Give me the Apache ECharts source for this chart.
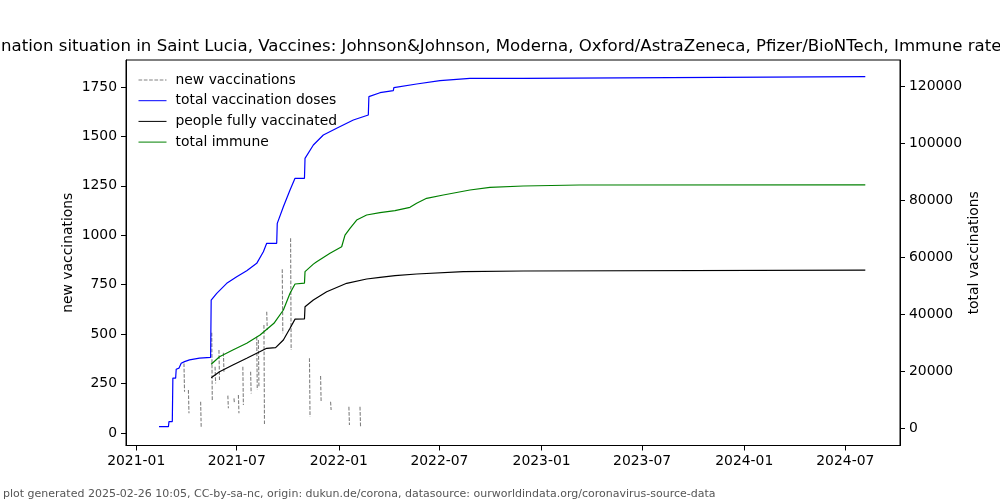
<!DOCTYPE html>
<html>
<head>
<meta charset="utf-8">
<script src="https://cdn.jsdelivr.net/npm/echarts@6/dist/echarts.min.js"></script>
<style>html,body{margin:0;padding:0;background:#fff}#c{width:1000px;height:500px}</style>
</head>
<body>
<div id="c"></div>
<script>
// ---- data ----
const titleText = 'nation situation in Saint Lucia, Vaccines: Johnson&Johnson, Moderna, Oxford/AstraZeneca, Pfizer/BioNTech, Immune rate';
const footerText = 'plot generated 2025-02-26 10:05, CC-by-sa-nc, origin: dukun.de/corona, datasource: ourworldindata.org/coronavirus-source-data';
const seriesNames = ['new vaccinations', 'total vaccination doses', 'people fully vaccinated', 'total immune'];
const xTickLabels = ['2021-01', '2021-07', '2022-01', '2022-07', '2023-01', '2023-07', '2024-01', '2024-07'];
const leftTicks = [0, 250, 500, 750, 1000, 1250, 1500, 1750];
const rightTicks = [0, 20000, 40000, 60000, 80000, 100000, 120000];

// new vaccinations: short runs of consecutive days (each run separated by a gap in the data)
const newVacRuns = [
  [['2021-03-28', 352], ['2021-03-29', 209]],
  [['2021-04-05', 217], ['2021-04-06', 100]],
  [['2021-04-27', 158], ['2021-04-28', 32]],
  [['2021-05-17', 507], ['2021-05-18', 158]],
  [['2021-05-23', 335], ['2021-05-24', 251]],
  [['2021-05-30', 420], ['2021-05-31', 268]],
  [['2021-06-07', 406], ['2021-06-08', 310]],
  [['2021-06-15', 189], ['2021-06-16', 125]],
  [['2021-06-26', 175], ['2021-06-27', 150]],
  [['2021-07-04', 192], ['2021-07-05', 100]],
  [['2021-07-12', 335], ['2021-07-13', 142]],
  [['2021-07-26', 310], ['2021-07-27', 200]],
  [['2021-08-06', 487], ['2021-08-07', 217]],
  [['2021-08-09', 470], ['2021-08-10', 230]],
  [['2021-08-19', 546], ['2021-08-20', 40]],
  [['2021-08-24', 613], ['2021-08-25', 521]],
  [['2021-09-21', 828], ['2021-09-22', 504]],
  [['2021-10-06', 985], ['2021-10-07', 420]],
  [['2021-11-09', 378], ['2021-11-10', 82]],
  [['2021-11-29', 288], ['2021-11-30', 158]],
  [['2021-12-17', 158], ['2021-12-18', 116]],
  [['2022-01-19', 133], ['2022-01-20', 40]],
  [['2022-02-08', 133], ['2022-02-09', 32]]
];

const totalDoses = [
  ['2021-02-11', 450], ['2021-02-28', 450], ['2021-03-01', 2250], ['2021-03-07', 2250],
  ['2021-03-08', 17500], ['2021-03-13', 17500], ['2021-03-14', 20600], ['2021-03-19', 21000],
  ['2021-03-23', 22700], ['2021-03-29', 23300], ['2021-04-07', 23900], ['2021-04-25', 24500],
  ['2021-05-15', 24800], ['2021-05-16', 44900], ['2021-05-26', 47260], ['2021-06-13', 50770],
  ['2021-07-01', 53100], ['2021-07-19', 55200], ['2021-08-06', 57780], ['2021-08-18', 61860],
  ['2021-08-24', 64800], ['2021-09-11', 64800], ['2021-09-12', 71800], ['2021-09-23', 77650],
  ['2021-10-05', 83500], ['2021-10-14', 87600], ['2021-10-31', 87600], ['2021-11-01', 94600],
  ['2021-11-16', 99300], ['2021-12-04', 102800], ['2021-12-28', 105150], ['2022-01-27', 108070],
  ['2022-02-23', 109820], ['2022-02-24', 116250], ['2022-03-16', 117650], ['2022-04-09', 118350],
  ['2022-04-10', 119400], ['2022-05-21', 120700], ['2022-07-02', 121860], ['2022-08-25', 122700],
  ['2022-11-29', 122700], ['2022-11-30', 123270], ['2024-08-06', 123270]
];

const fullyVaccinated = [
  ['2021-05-16', 17650], ['2021-05-31', 19750], ['2021-06-24', 22100], ['2021-07-19', 24460],
  ['2021-08-06', 26200], ['2021-08-24', 27960], ['2021-09-09', 28180], ['2021-09-23', 30880],
  ['2021-10-05', 35000], ['2021-10-14', 38200], ['2021-10-31', 38250], ['2021-11-01', 42560],
  ['2021-11-16', 44900], ['2021-12-10', 47830], ['2022-01-15', 50770], ['2022-02-20', 52280],
  ['2022-03-16', 52880], ['2022-04-12', 53440], ['2022-05-21', 54040], ['2022-08-13', 54850],
  ['2022-11-29', 55090], ['2022-11-30', 55400], ['2024-08-06', 55400]
];

const totalImmune = [
  ['2021-05-16', 22350], ['2021-05-31', 25020], ['2021-06-24', 27370], ['2021-07-19', 29720],
  ['2021-08-12', 32630], ['2021-09-06', 36740], ['2021-09-23', 41400], ['2021-10-05', 47260],
  ['2021-10-14', 50530], ['2021-10-31', 50800], ['2021-11-01', 54850], ['2021-11-16', 57500],
  ['2021-11-22', 58350], ['2021-12-16', 61300], ['2022-01-06', 63600], ['2022-01-12', 67700],
  ['2022-01-21', 70070], ['2022-02-02', 72980], ['2022-02-20', 74740], ['2022-03-16', 75550],
  ['2022-04-12', 76250], ['2022-05-09', 77440], ['2022-05-21', 78840], ['2022-06-08', 80590],
  ['2022-07-08', 81750], ['2022-08-25', 83510], ['2022-09-30', 84460], ['2022-11-29', 84910],
  ['2023-03-10', 85260], ['2024-08-06', 85300]
];

// ---- helpers ----
function utc(s) {
  const p = s.split('-').map(Number);
  return Date.UTC(p[0], (p[1] || 1) - 1, p[2] || 1);
}
const DAY = 86400000;
function conv(arr) { return arr.map(d => [utc(d[0]), d[1]]); }
const newVacData = [];
newVacRuns.forEach(run => {
  run.forEach(d => newVacData.push([utc(d[0]), d[1]]));
  const last = utc(run[run.length - 1][0]);
  newVacData.push([last + DAY, '-']);
});

const FONT = 'DejaVu Sans';
const chart = echarts.init(document.getElementById('c'), null, { renderer: 'canvas' });
const lineBase = { type: 'line', symbol: 'none', showSymbol: false, connectNulls: false, animation: false, emphasis: { disabled: true } };
const plain = v => String(v);

chart.setOption({
  animation: false,
  backgroundColor: '#ffffff',
  textStyle: { fontFamily: FONT },
  title: [
    { text: titleText, left: 1, top: 37, padding: 0, textStyle: { fontFamily: FONT, fontSize: 16.6, fontWeight: 'normal', color: '#000', lineHeight: 20 } },
    { text: footerText, left: 3, top: 487, padding: 0, textStyle: { fontFamily: FONT, fontSize: 11, fontWeight: 'normal', color: '#555', lineHeight: 14 } }
  ],
  legend: {
    orient: 'vertical', left: 138, top: 73, padding: 0,
    itemWidth: 28, itemHeight: 14, itemGap: 6.7,
    itemStyle: { opacity: 0 },
    lineStyle: { width: 1 },
    data: seriesNames,
    textStyle: { fontFamily: FONT, fontSize: 13.9, color: '#000', padding: [0, 0, 0, 4] }
  },
  grid: { left: 126, right: 100, top: 60, bottom: 54.5, show: true, borderColor: '#000', borderWidth: 1, containLabel: false },
  xAxis: {
    type: 'value',
    min: utc('2021-01-01') - 18.4 * DAY,
    max: utc('2024-07-01') + 98.5 * DAY,
    splitLine: { show: false },
    axisLine: { show: true, onZero: false, lineStyle: { color: '#000', width: 1 } },
    axisTick: { show: true, length: 5, lineStyle: { color: '#000' }, customValues: xTickLabels.map(utc) },
    axisLabel: {
      customValues: xTickLabels.map(utc), margin: 9, color: '#000', fontFamily: FONT, fontSize: 13.9,
      formatter: function (v) { const d = new Date(v); return d.getUTCFullYear() + '-' + String(d.getUTCMonth() + 1).padStart(2, '0'); }
    }
  },
  yAxis: [
    {
      type: 'value', position: 'left', min: -63.2, max: 1886.1,
      name: 'new vaccinations', nameLocation: 'middle', nameRotate: 90, nameGap: 51, nameMoveOverlap: false,
      nameTextStyle: { fontFamily: FONT, fontSize: 13.9, color: '#000' },
      splitLine: { show: false },
      axisLine: { show: true, onZero: false, lineStyle: { color: '#000' } },
      axisTick: { show: true, length: 5, lineStyle: { color: '#000' }, customValues: leftTicks },
      axisLabel: { customValues: leftTicks, margin: 9, color: '#000', fontFamily: FONT, fontSize: 13.9, formatter: plain }
    },
    {
      type: 'value', position: 'right', min: -6140, max: 129123,
      name: 'total vaccinations', nameLocation: 'middle', nameRotate: 90, nameGap: 67, nameMoveOverlap: false,
      nameTextStyle: { fontFamily: FONT, fontSize: 13.9, color: '#000' },
      splitLine: { show: false },
      axisLine: { show: true, onZero: false, lineStyle: { color: '#000' } },
      axisTick: { show: true, length: 5, lineStyle: { color: '#000' }, customValues: rightTicks },
      axisLabel: { customValues: rightTicks, margin: 9, color: '#000', fontFamily: FONT, fontSize: 13.9, formatter: plain }
    }
  ],
  series: [
    Object.assign({}, lineBase, { name: seriesNames[0], yAxisIndex: 0, data: newVacData, itemStyle: { color: '#808080' }, lineStyle: { color: '#808080', width: 1.1, type: [3.7, 1.6] } }),
    Object.assign({}, lineBase, { name: seriesNames[1], yAxisIndex: 1, data: conv(totalDoses), itemStyle: { color: '#0000ff' }, lineStyle: { color: '#0000ff', width: 1.2 } }),
    Object.assign({}, lineBase, { name: seriesNames[2], yAxisIndex: 1, data: conv(fullyVaccinated), itemStyle: { color: '#000000' }, lineStyle: { color: '#000000', width: 1.2 } }),
    Object.assign({}, lineBase, { name: seriesNames[3], yAxisIndex: 1, data: conv(totalImmune), itemStyle: { color: '#008000' }, lineStyle: { color: '#008000', width: 1.2 } })
  ]
});
</script>
</body>
</html>
